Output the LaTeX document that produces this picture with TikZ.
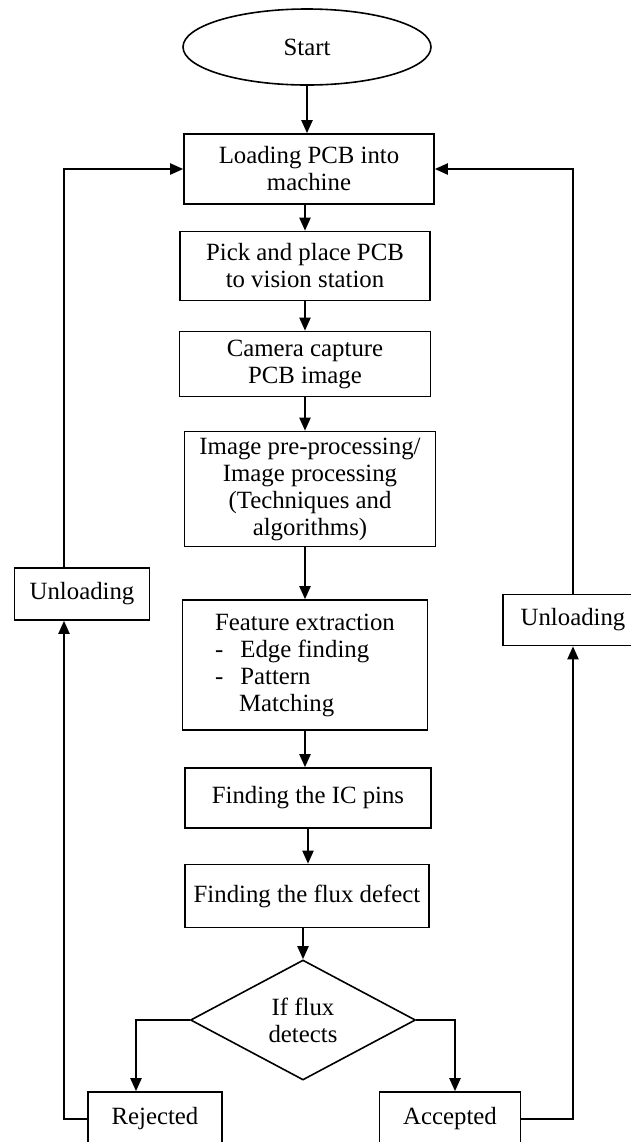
\documentclass[tikz,border=0pt]{standalone}
\usepackage{fontspec}
\setmainfont{Liberation Serif}
\usetikzlibrary{shapes.geometric,arrows.meta}

\begin{document}
\begin{tikzpicture}[x=0.5pt, y=-0.5pt,
  font=\fontsize{12.4pt}{13.5pt}\selectfont,
  box/.style={draw, line width=0.8pt, align=center, inner sep=2pt},
  flow/.style={line width=1pt, -{Triangle[length=6.5pt,width=5.5pt]}},
  link/.style={line width=1pt}]

  \useasboundingbox (0,0) rectangle (631,1142);

  % Start
  \node[box, ellipse, minimum width=124pt, minimum height=38pt] (start) at (307,47) {Start};

  % Main column
  \node[box, minimum width=125pt, minimum height=35pt] (load) at (309,169) {Loading PCB into\\machine};
  \node[box, minimum width=125pt, minimum height=34.5pt] (pick) at (305,266) {Pick and place PCB\\to vision station};
  \node[box, minimum width=125.5pt, minimum height=32.5pt] (cam) at (305,364) {Camera capture\\PCB image};
  \node[box, minimum width=125.5pt, minimum height=57.5pt] (proc) at (310,489) {Image pre-processing/\\Image processing\\(Techniques and\\algorithms)};
  \node[box, align=left, minimum width=122.5pt, minimum height=65pt] (feat) at (305,665)
    {Feature extraction\\-\hspace{8.5pt}Edge finding\\-\hspace{8.5pt}Pattern\\\hspace{12pt}Matching};
  \node[box, minimum width=123pt, minimum height=30pt] (pins) at (308,798) {Finding the IC pins};
  \node[box, minimum width=122pt, minimum height=31.5pt] (flux) at (307,896) {Finding the flux defect};

  % Decision
  \node[box, diamond, inner sep=0pt, minimum width=112.5pt, minimum height=60pt] (dec) at (303,1020) {If flux\\detects};

  % Outcomes
  \node[box, minimum width=67pt, minimum height=27pt] (rej) at (155,1119) {Rejected};
  \node[box, minimum width=70.5pt, minimum height=27pt] (acc) at (450,1119) {Accepted};

  % Unloading boxes
  \node[box, minimum width=67.5pt, minimum height=26pt] (unlL) at (82,594) {Unloading};
  \node[box, minimum width=70pt, minimum height=25.5pt] (unlR) at (573,620) {Unloading};

  \coordinate (lx) at (64,0);
  \coordinate (ldrop) at (136,0);
  \coordinate (rdrop) at (455,0);

  % Flow arrows
  \draw[flow] (start) -- (start |- load.north);
  \draw[flow] (pick.north |- load.south) -- (pick.north);
  \draw[flow] (cam.north |- pick.south) -- (cam.north);
  \draw[flow] (cam.south) -- (cam.south |- proc.north);
  \draw[flow] (feat.north |- proc.south) -- (feat.north);
  \draw[flow] (feat.south) -- (feat.south |- pins.north);
  \draw[flow] (pins.south) -- (pins.south |- flux.north);
  \draw[flow] (flux.south -| dec.north) -- (dec.north);

  % Decision branches
  \draw[flow] (dec.west) -| (ldrop |- rej.north);
  \draw[flow] (dec.east) -| (rdrop |- acc.north);

  % Return loops
  \draw[flow] (rej.west) -| (lx |- unlL.south);
  \draw[flow] (lx |- unlL.north) |- (load.west);
  \draw[flow] (acc.east) -| (unlR.south);
  \draw[flow] (unlR.north) |- (load.east);

\end{tikzpicture}
\end{document}
